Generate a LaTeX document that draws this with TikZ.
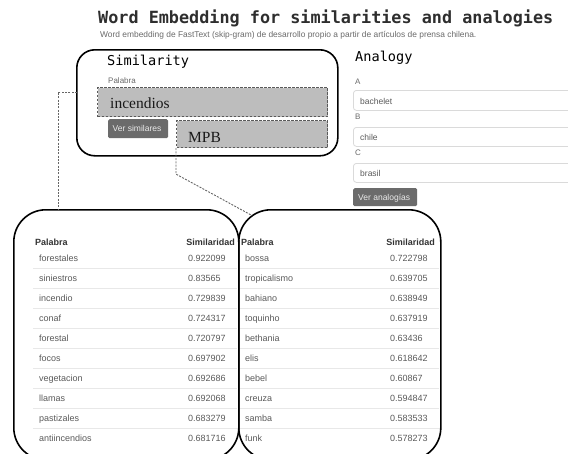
\documentclass[tikz,border=0pt]{standalone}
\usepackage{fontspec}
\setmainfont{Liberation Serif}
\setsansfont{Liberation Sans}
\setmonofont{DejaVu Sans Mono}
\definecolor{txtgray}{HTML}{5A5A5A}
\definecolor{hdrgray}{HTML}{333333}
\definecolor{lblgray}{HTML}{6A6A6A}
\definecolor{hlfill}{HTML}{BDBDBD}
\definecolor{hldraw}{HTML}{5A5A5A}
\definecolor{btnfill}{HTML}{6B6B6B}
\definecolor{sepgray}{HTML}{E8E8E8}
\definecolor{inputdraw}{HTML}{DADADA}
\tikzset{
  frame/.style={draw=black, line width=1.6pt, rounded corners=18pt, inner sep=0pt, anchor=north west},
  tabframe/.style={draw=black, line width=1.6pt, rounded corners=32pt, inner sep=0pt, anchor=north west},
  hlbox/.style={draw=hldraw, fill=hlfill, line width=1.1pt, dash pattern=on 2.5pt off 1.5pt, inner sep=0pt, anchor=north west},
  btn/.style={fill=btnfill, rounded corners=1.5pt, inner sep=0pt, anchor=north west},
  btntext/.style={font=\sffamily\fontsize{8.5}{10}\selectfont, text=white!92!black, inner sep=0pt, anchor=base west},
  inputbox/.style={draw=inputdraw, fill=white, line width=0.8pt, rounded corners=3pt, inner sep=0pt, anchor=north west},
  small/.style={font=\sffamily\fontsize{8}{9}\selectfont, text=lblgray, inner sep=0pt, anchor=base west},
  inputtext/.style={font=\sffamily\fontsize{8.5}{10}\selectfont, text=txtgray, inner sep=0pt, anchor=base west},
  heading/.style={font=\ttfamily\fontsize{13.6}{15}\selectfont, text=black, inner sep=0pt, anchor=base west},
  big/.style={font=\rmfamily\fontsize{15.5}{17}\selectfont, text=black!90, inner sep=0pt, anchor=base west},
  cell/.style={font=\sffamily\fontsize{9}{10}\selectfont, text=txtgray, inner sep=0pt, anchor=base west},
  hcell/.style={font=\sffamily\bfseries\fontsize{9}{10}\selectfont, text=hdrgray, inner sep=0pt},
  sepline/.style={draw=sepgray, line width=0.7pt},
  link/.style={draw=black!60, line width=0.9pt, dash pattern=on 2pt off 1.3pt}
}
\begin{document}
\begin{tikzpicture}[x=1pt,y=-1pt]
\useasboundingbox[fill=white] (0,0) rectangle (568,453);

% title
\node[font=\ttfamily\bfseries\fontsize{16.8}{18}\selectfont, text=black!82, inner sep=0pt, anchor=base west] (title) at (98,23) {Word Embedding for similarities and analogies};
\node[font=\sffamily\fontsize{8.4}{9}\selectfont, text=lblgray, inner sep=0pt, anchor=base west] (subtitle) at (100,37) {Word embedding de FastText (skip-gram) de desarrollo propio a partir de artículos de prensa chilena.};

% Similarity panel
\node[frame, minimum width=261pt, minimum height=106pt] (simbox) at (76,49) {};
\node[heading] (simhead) at (107,65) {Similarity};
\node[small] (simlbl) at (108,83) {Palabra};
\node[hlbox, minimum width=230pt, minimum height=29pt] (inc) at (97,87) {};
\node[big] (inctext) at (110,108) {incendios};
\node[btn, minimum width=60pt, minimum height=19pt] (simbtn) at (108,119) {};
\node[btntext] (simbtntext) at (112.5,131.5) {Ver similares};
\node[hlbox, minimum width=151pt, minimum height=27pt] (mpb) at (176,120) {};
\node[big] (mpbtext) at (188,142) {MPB};

% Analogy panel
\node[heading] (anahead) at (355,61) {Analogy};
\node[small] (la) at (355,84) {A};
\node[inputbox, minimum width=230pt, minimum height=20pt] (ina) at (353,90) {};
\node[inputtext] (ta) at (360,104) {bachelet};
\node[small] (lb) at (355,119) {B};
\node[inputbox, minimum width=230pt, minimum height=19pt] (inb) at (353,127) {};
\node[inputtext] (tb) at (360,140) {chile};
\node[small] (lc) at (355,155) {C};
\node[inputbox, minimum width=230pt, minimum height=19pt] (inc2) at (353,163) {};
\node[inputtext] (tc) at (360,176) {brasil};
\node[btn, minimum width=64pt, minimum height=18pt] (anabtn) at (353,188) {};
\node[btntext] (anabtntext) at (358,200.5) {Ver analogías};

% tables
\node[tabframe, minimum width=225pt, minimum height=250pt] (ltab) at (13,209) {};
\node[tabframe, minimum width=202pt, minimum height=250pt] (rtab) at (238,209) {};

\node[hcell, anchor=base west] (lh1) at (35,245) {Palabra};
\node[hcell, anchor=base east] (lh2) at (235,245) {Similaridad};
\node[hcell, anchor=base west] (rh1) at (241,245) {Palabra};
\node[hcell, anchor=base east] (rh2) at (435,245) {Similaridad};

\foreach \k in {0,...,8} {
  \draw[sepline] (33,268+20*\k) -- (237,268+20*\k);
  \draw[sepline] (240,268+20*\k) -- (439,268+20*\k);
}

\foreach \w/\s [count=\i from 0] in {forestales/0.922099, siniestros/0.83565, incendio/0.729839, conaf/0.724317, forestal/0.720797, focos/0.697902, vegetacion/0.692686, llamas/0.692068, pastizales/0.683279, antiincendios/0.681716} {
  \node[cell] (lw\i) at (39,261+20*\i) {\w};
  \node[cell] (ls\i) at (188,261+20*\i) {\s};
}
\foreach \w/\s [count=\i from 0] in {bossa/0.722798, tropicalismo/0.639705, bahiano/0.638949, toquinho/0.637919, bethania/0.63436, elis/0.618642, bebel/0.60867, creuza/0.594847, samba/0.583533, funk/0.578273} {
  \node[cell] (rw\i) at (245,261+20*\i) {\w};
  \node[cell] (rs\i) at (390,261+20*\i) {\s};
}

% connectors
\coordinate (p1) at (76.8,92);
\coordinate (t1) at (58,209);
\draw[link] (p1) -| (t1);
\coordinate (t2) at (252,215.5);
\draw[link] (mpb.south west) -- ++(0,26) -- (t2);
\end{tikzpicture}
\end{document}
